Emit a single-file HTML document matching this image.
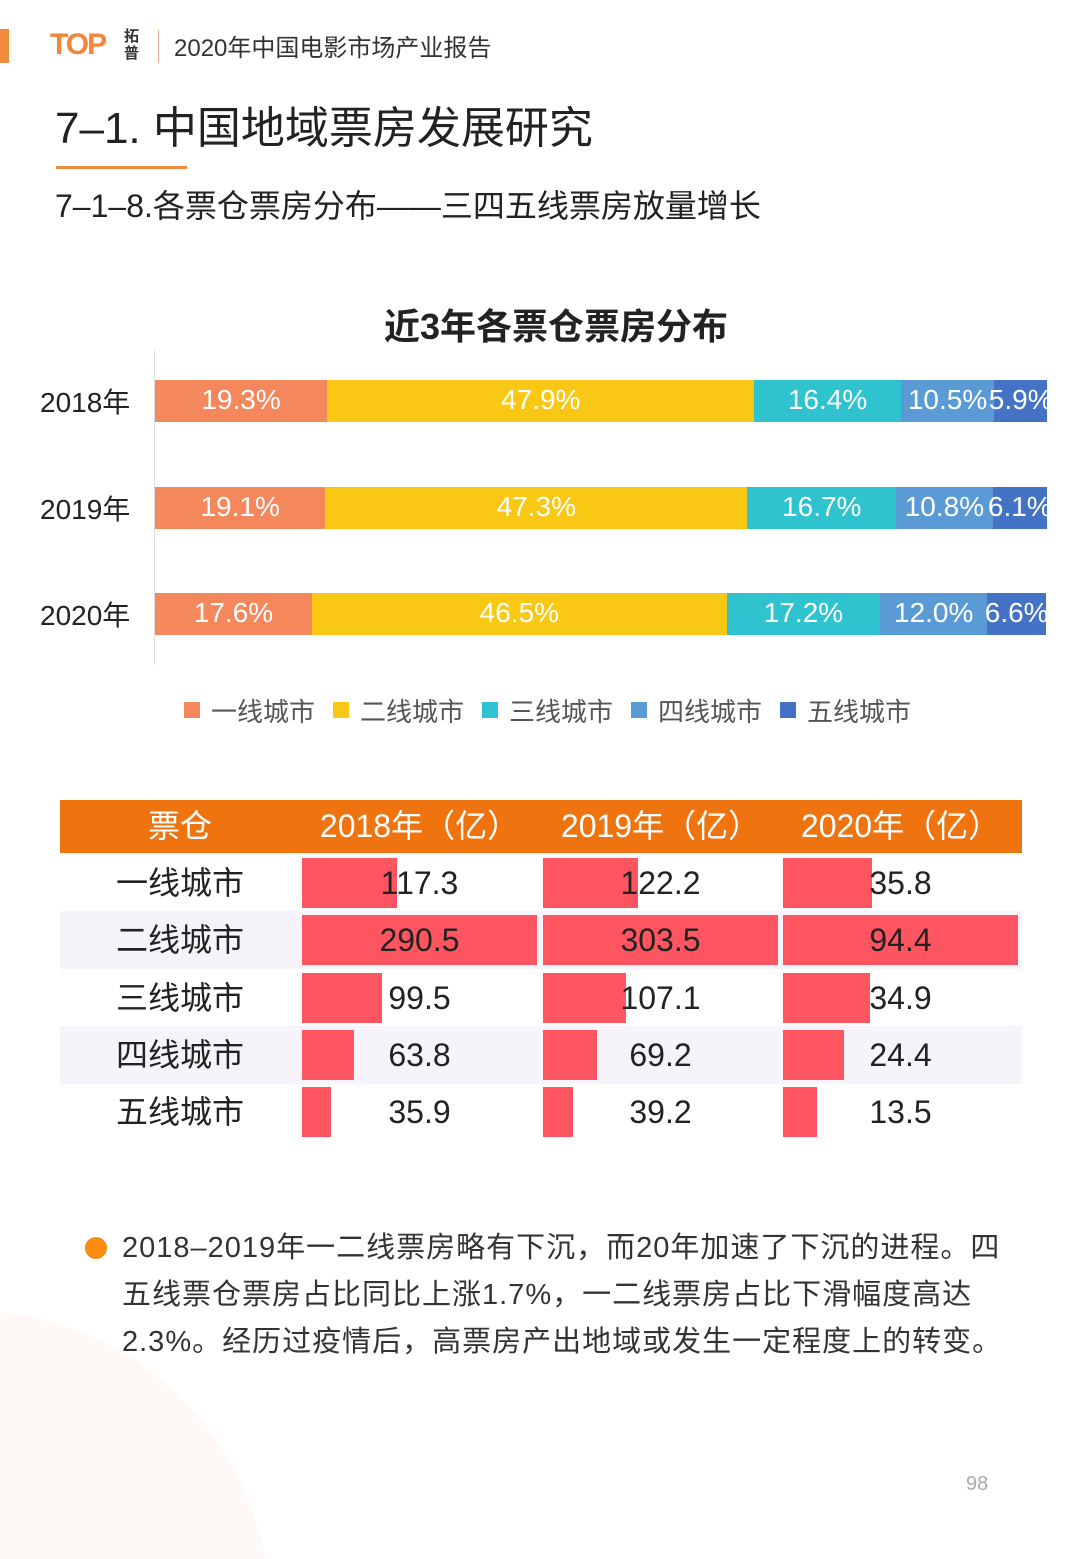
<!DOCTYPE html>
<html><head><meta charset="utf-8"><style>
body{margin:0;width:1080px;height:1559px;position:relative;overflow:hidden;background:#fff;font-family:"Liberation Sans","Noto Sans CJK SC",sans-serif;color:#222}
.a{position:absolute;white-space:nowrap}
</style></head><body>
<div class="a" style="left:0;top:1310px;width:270px;height:249px;background:radial-gradient(circle 300px at -30px 300px,#fef9f6 299px,rgba(255,255,255,0) 300px)"></div>
<div class="a" style="left:0;top:29px;width:9px;height:34px;background:#f08a3c"></div>
<div class="a" style="left:50px;top:28px;font-size:30px;font-weight:bold;color:#f4853a;letter-spacing:-2px">TOP</div>
<div class="a" style="left:124px;top:28px;font-size:15px;line-height:17px;font-weight:bold;color:#333;width:18px;white-space:normal">拓普</div>
<div class="a" style="left:158px;top:30px;width:1px;height:33px;background:#f0b08a"></div>
<div class="a" style="left:174px;top:28px;font-size:24px;color:#333">2020年中国电影市场产业报告</div>
<div class="a" style="left:55px;top:92px;font-size:44px;color:#222">7–1. 中国地域票房发展研究</div>
<div class="a" style="left:56px;top:166px;width:131px;height:3px;background:#f08a3c"></div>
<div class="a" style="left:55px;top:181px;font-size:32px;color:#222">7–1–8.各票仓票房分布——三四五线票房放量增长</div>
<div class="a" style="left:0;width:1080px;text-align:center;top:298px;font-size:36px;font-weight:bold;color:#222;padding-left:32px;box-sizing:border-box">近3年各票仓票房分布</div>
<div id="chart"></div>
<div id="legend"></div>
<div id="table"></div>
<div class="a" style="left:85px;top:1237px;width:22px;height:22px;border-radius:50%;background:#f88c12"></div>
<div class="a" style="left:122px;top:1225px;font-size:29px;line-height:47px;color:#333;letter-spacing:1px">2018–2019年一二线票房略有下沉，而20年加速了下沉的进程。四<br>五线票仓票房占比同比上涨1.7%，一二线票房占比下滑幅度高达<br>2.3%。经历过疫情后，高票房产出地域或发生一定程度上的转变。</div>
<div class="a" style="left:966px;top:1473px;font-size:20px;color:#aaa">98</div>
<script>
const years=['2018年','2019年','2020年'];
const tiers=['一线城市','二线城市','三线城市','四线城市','五线城市'];
const colors=['#f5875d','#f8c815','#2ec3cf','#5b9bd5','#4472c4'];
const share2018=[19.3,47.9,16.4,10.5,5.9];
const share2019=[19.1,47.3,16.7,10.8,6.1];
const share2020=[17.6,46.5,17.2,12.0,6.6];
const box2018=[117.3,290.5,99.5,63.8,35.9];
const box2019=[122.2,303.5,107.1,69.2,39.2];
const box2020=[35.8,94.4,34.9,24.4,13.5];
const shares=[share2018,share2019,share2020];
const boxes=[box2018,box2019,box2020];
const X0=155,W=892;
const xs=v=>v/100*W;
const chart=document.getElementById('chart');
let ax=document.createElement('div');ax.className='a';


ax.style.cssText='left:154px;top:350px;width:1px;height:315px;background:#ddd';chart.appendChild(ax);
years.forEach((y,i)=>{
  const top=380+i*106.5;
  let l=document.createElement('div');l.className='a';
  
  
  l.style.cssText=`left:40px;top:${top+1}px;font-size:28px;color:#222`;l.textContent=y;chart.appendChild(l);
  let row=document.createElement('div');row.className='a';
  
  
  row.style.cssText=`left:${X0}px;top:${top}px;width:${W}px;height:42px;overflow:hidden`;chart.appendChild(row);
  let x=0;
  shares[i].forEach((v,j)=>{
    const w=xs(v);
    let b=document.createElement('div');b.className='a';
    
    
    b.style.cssText=`left:${x}px;top:0;width:${w}px;height:42px;background:${colors[j]};color:#fff;font-size:28px;line-height:40px;text-align:center;display:flex;justify-content:center`;
    b.textContent=v.toFixed(1)+'%';row.appendChild(b);x+=w;
  });
});
const legend=document.getElementById('legend');
tiers.forEach((t,j)=>{
  let s=document.createElement('div');s.className='a';
  
  
  s.style.cssText=`left:${184+j*149}px;top:702px;width:16px;height:16px;background:${colors[j]}`;legend.appendChild(s);
  let l=document.createElement('div');l.className='a';
  
  
  l.style.cssText=`left:${211+j*149}px;top:692px;font-size:26px;color:#555`;l.textContent=t;legend.appendChild(l);
});
const table=document.getElementById('table');
let h=document.createElement('div');h.className='a';


h.style.cssText='left:60px;top:800px;width:962px;height:53px;background:#ef7410';table.appendChild(h);
const heads=['票仓','2018年（亿）','2019年（亿）','2020年（亿）'];
const colX=[60,302,543,783];
heads.forEach((t,k)=>{
  let d=document.createElement('div');d.className='a';
  
  
  d.style.cssText=`left:${k?colX[k]:60}px;width:${k?235:240}px;top:800px;height:53px;line-height:53px;text-align:center;color:#fff;font-size:32px`;d.textContent=t;table.appendChild(d);
});
tiers.forEach((t,r)=>{
  const top=858+r*57.3;
  if(r%2==1){let bg=document.createElement('div');bg.className='a';
    
    
    bg.style.cssText=`left:60px;top:${top-4}px;width:962px;height:58px;background:#f6f4fa`;table.appendChild(bg);}
  let l=document.createElement('div');l.className='a';
  
  
  l.style.cssText=`left:60px;width:240px;text-align:center;top:${top}px;height:50px;line-height:50px;font-size:32px;color:#222`;l.textContent=t;table.appendChild(l);
  boxes.forEach((arr,k)=>{
    const mx=Math.max(...arr);
    let b=document.createElement('div');b.className='a';
    
    
    b.style.cssText=`left:${colX[k+1]}px;top:${top}px;width:${arr[r]/mx*235}px;height:50px;background:#fe5560`;table.appendChild(b);
    let v=document.createElement('div');v.className='a';
    
    
    v.style.cssText=`left:${colX[k+1]}px;width:235px;text-align:center;top:${top}px;height:50px;line-height:50px;font-size:32px;color:#222`;v.textContent=arr[r].toFixed(1);table.appendChild(v);
  });
});
</script>
</body></html>
